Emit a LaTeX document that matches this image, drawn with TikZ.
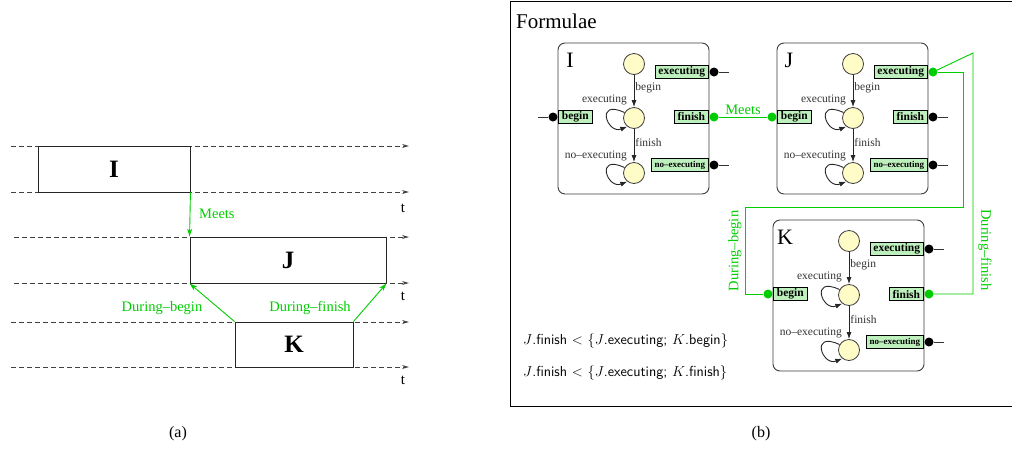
\documentclass[tikz,border=0pt]{standalone}
\usepackage{fontspec}
\setmainfont{Liberation Serif}
\usetikzlibrary{arrows.meta,calc}
\definecolor{mygreen}{RGB}{0,205,0}
\definecolor{portfill}{RGB}{190,240,190}
\definecolor{statefill}{RGB}{255,252,200}
\definecolor{edge}{RGB}{60,60,60}
\tikzset{
  autobox/.style={draw=edge, line width=0.9pt, rounded corners=7pt, minimum width=151pt, minimum height=151pt, inner sep=0pt},
  state/.style={circle, draw=edge, line width=0.8pt, fill=statefill, minimum size=21pt, inner sep=0pt},
  trans/.style={draw=black!85, line width=0.9pt, -{Latex[length=7pt,width=5pt]}},
  smalllab/.style={font=\fontsize{11.5}{12}\selectfont, text=black!80, inner sep=1pt},
  port/.style={draw=black, line width=0.8pt, fill=portfill, font=\bfseries\fontsize{11.5}{12}\selectfont, inner xsep=3.5pt, inner ysep=0pt, minimum height=13pt},
  smallport/.style={port, font=\bfseries\fontsize{9}{10}\selectfont},
  dot/.style={circle, fill=#1, minimum size=9pt, inner sep=0pt},
  stub/.style={draw=black!80, line width=0.8pt},
  glink/.style={draw=mygreen, line width=0.9pt},
  glab/.style={text=mygreen, font=\fontsize{14.5}{16}\selectfont, inner sep=1pt},
  tline/.style={draw=black!75, line width=0.8pt, dash pattern=on 5pt off 3pt, -{Stealth[length=7pt,width=4pt,open]}},
  tbox/.style={draw=black!85, line width=0.9pt, font=\bfseries\fontsize{25}{26}\selectfont, inner sep=0pt},
  garrow/.style={draw=mygreen, line width=0.9pt, -{Stealth[length=8pt,width=5pt]}},
  tlab/.style={font=\fontsize{15}{16}\selectfont},
  formula/.style={font=\sffamily\fontsize{14.5}{16}\selectfont, anchor=west, inner sep=0pt},
  caption/.style={font=\fontsize{16}{17}\selectfont}
}
% #1 name, #2 x, #3 y, #4 label, #5 begin dot, #6 exec dot, #7 finish dot, #8 noexec dot
\newcommand{\automaton}[8]{%
\begin{scope}[shift={(#2,#3)}]
  \node[autobox] (#1-box) at (75.5,75.5) {};
  \node[font=\fontsize{22}{23}\selectfont, inner sep=0pt] (#1-lab) at (12,17) {#4};
  \node[state] (#1-s1) at (76,21) {};
  \node[state] (#1-s2) at (76,75) {};
  \node[state] (#1-s3) at (76,130) {};
  \draw[trans] (#1-s1) -- node[smalllab, right, pos=0.4] (#1-lb) {begin} (#1-s2);
  \draw[trans] (#1-s2) -- node[smalllab, right, pos=0.4] (#1-lf) {finish} (#1-s3);
  \draw[trans] (#1-s2.150) .. controls +(-30,-14) and +(-20,8) .. (#1-s2.232);
  \draw[trans] (#1-s3.150) .. controls +(-30,-14) and +(-20,8) .. (#1-s3.232);
  \node[smalllab, anchor=east] (#1-le) at (70,57) {executing};
  \node[smalllab, anchor=east] (#1-ln) at (70,113) {no--executing};
  \node[port, anchor=west] (#1-beg) at (0,74) {begin};
  \node[port, anchor=east] (#1-exec) at (151,29) {executing};
  \node[port, anchor=east] (#1-fin) at (151,74) {finish};
  \node[smallport, anchor=east] (#1-noex) at (151,122) {no--executing};
  \node[dot=#5] (#1-begdot) at (-5,74) {};
  \node[dot=#6] (#1-execdot) at (156,29) {};
  \node[dot=#7] (#1-findot) at (156,74) {};
  \node[dot=#8] (#1-noexdot) at (156,122) {};
\end{scope}}
\begin{document}
\begin{tikzpicture}[x=1pt, y=-1pt]
\useasboundingbox (0,0) rectangle (1012,448);
% ---------------- panel (a)
\foreach \yy/\xs/\nm in {146/11/l1, 192/11/l2, 237/14/l3, 283/14/l4, 322/11/l5, 367/11/l6}{
  \coordinate (\nm-a) at (\xs,\yy);
  \coordinate (\nm-b) at (409,\yy);
  \draw[tline] (\nm-a) -- (\nm-b);
}
\node[tbox, minimum width=152pt, minimum height=46pt] (bI) at (114,169) {I};
\node[tbox, minimum width=196pt, minimum height=46pt] (bJ) at (288,260) {J};
\node[tbox, minimum width=118pt, minimum height=45pt] (bK) at (294,344.5) {K};
\draw[garrow] (bI.south east) -- (bJ.north west);
\draw[garrow] (bK.north west) -- (bJ.south west);
\draw[garrow] (bK.north east) -- (bJ.south east);
\node[glab, anchor=west] (mA) at (198,214) {Meets};
\node[glab] (dbA) at (162,308) {During--begin};
\node[glab] (dfA) at (310,308) {During--finish};
\node[tlab] (t1) at (403,208) {t};
\node[tlab] (t2) at (403,296) {t};
\node[tlab] (t3) at (403,380) {t};
\node[caption] (capa) at (178,434) {(a)};
% ---------------- panel (b)
\draw[line width=0.9pt] (1013,1) -- (510,1) -- (510,406) -- (1013,406);
\node[font=\fontsize{21}{22}\selectfont, anchor=west, inner sep=0pt] (form) at (516,21) {Formulae};
\automaton{I}{558}{43}{I}{black}{black}{mygreen}{black}
\automaton{J}{777}{43}{J}{mygreen}{mygreen}{black}{black}
\automaton{K}{773}{220}{K}{mygreen}{black}{mygreen}{black}
% stubs
\coordinate (I-begend) at ($(I-begdot)+(-15,0)$);
\draw[stub] (I-begend) -- (I-begdot);
\foreach \n/\p in {I/execdot, I/noexdot, J/findot, J/noexdot, K/execdot, K/noexdot}{
  \coordinate (\n-\p-end) at ($(\n-\p)+(15,0)$);
  \draw[stub] (\n-\p) -- (\n-\p-end);
}
% green links
\draw[glink] (I-findot) -- node[glab, above, inner sep=2pt] (mB) {Meets} (J-begdot);
\coordinate (dbP) at (963,207);
\coordinate (dbQ) at (745,207);
\draw[glink] (J-execdot) -| (dbP) -- (dbQ) |- (K-begdot);
\coordinate (dfP) at (973,53);
\draw[glink] (J-execdot) -- (dfP) |- (K-findot);
\node[glab, rotate=90] (dbB) at (735,251) {During--begin};
\node[glab, rotate=-90] (dfB) at (985,250) {During--finish};
% formulae
\node[formula] (f1) at (523,341) {$J$.finish $<$ $\{J$.executing; $K$.begin$\}$};
\node[formula] (f2) at (523,373) {$J$.finish $<$ $\{J$.executing; $K$.finish$\}$};
\node[caption] (capb) at (761,434) {(b)};
\end{tikzpicture}
\end{document}
